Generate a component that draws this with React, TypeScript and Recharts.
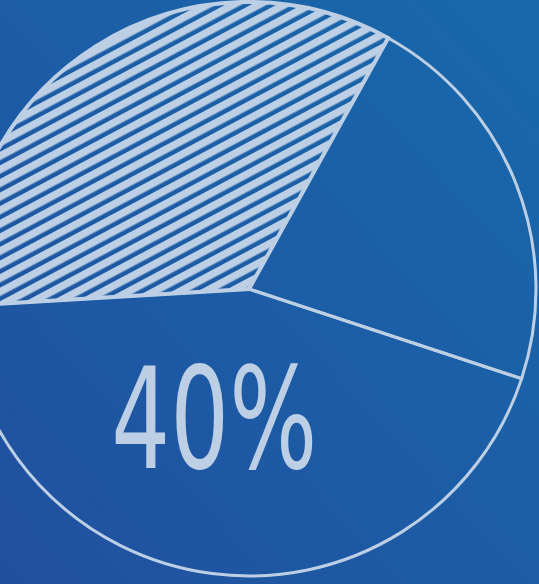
import React from 'react';
import { PieChart, Pie, Cell } from 'recharts';

// slices, counter-clockwise from the upper-right edge
const sliceNames = ['hatched', 'bottom', 'right'];
const sliceValues = [34, 44, 22];
const sliceLabels = ['', '40%', ''];

const INK = '#BCCFE5';
const RADIAN = Math.PI / 180;

const data = sliceNames.map((name, i) => ({ name, value: sliceValues[i], label: sliceLabels[i] }));

const renderLabel = (props: any) => {
  const { cx, cy, midAngle, outerRadius, index } = props;
  const text = sliceLabels[index];
  if (!text) return null;
  const r = outerRadius * 0.45;
  const x = cx + r * Math.cos(-midAngle * RADIAN);
  const y = cy + r * Math.sin(-midAngle * RADIAN);
  return (
    <text
      x={x - 18}
      y={y + 51}
      fill={INK}
      textAnchor="middle"
      fontFamily="DejaVu Sans, sans-serif"
      fontSize={140}
      textLength={206}
      lengthAdjust="spacingAndGlyphs"
    >
      {text}
    </text>
  );
};

export default function App() {
  return (
    <div
      style={{
        position: 'fixed',
        top: 0,
        left: 0,
        width: 539,
        height: 584,
        overflow: 'hidden',
        background: 'linear-gradient(to top right, #214F9E 0%, #1C5DA6 50%, #1869AB 100%)',
      }}
    >
      <PieChart width={539} height={584} margin={{ top: 0, right: 0, bottom: 0, left: 0 }}>
        <defs>
          <pattern id="hatch" patternUnits="userSpaceOnUse" width={12} height={12} patternTransform="rotate(-28)">
            <rect x={0} y={2} width={12} height={7.5} fill={INK} />
          </pattern>
        </defs>
        <Pie
          data={data}
          dataKey="value"
          nameKey="name"
          cx={249}
          cy={289}
          innerRadius={0}
          outerRadius={287}
          startAngle={61}
          endAngle={421}
          stroke={INK}
          strokeWidth={3}
          label={renderLabel}
          labelLine={false}
          isAnimationActive={false}
        >
          {data.map((d, i) => (
            <Cell
              key={d.name}
              fill={i === 0 ? 'url(#hatch)' : 'transparent'}
              stroke={INK}
              strokeWidth={i === 0 ? 4 : 3}
            />
          ))}
        </Pie>
      </PieChart>
    </div>
  );
}
